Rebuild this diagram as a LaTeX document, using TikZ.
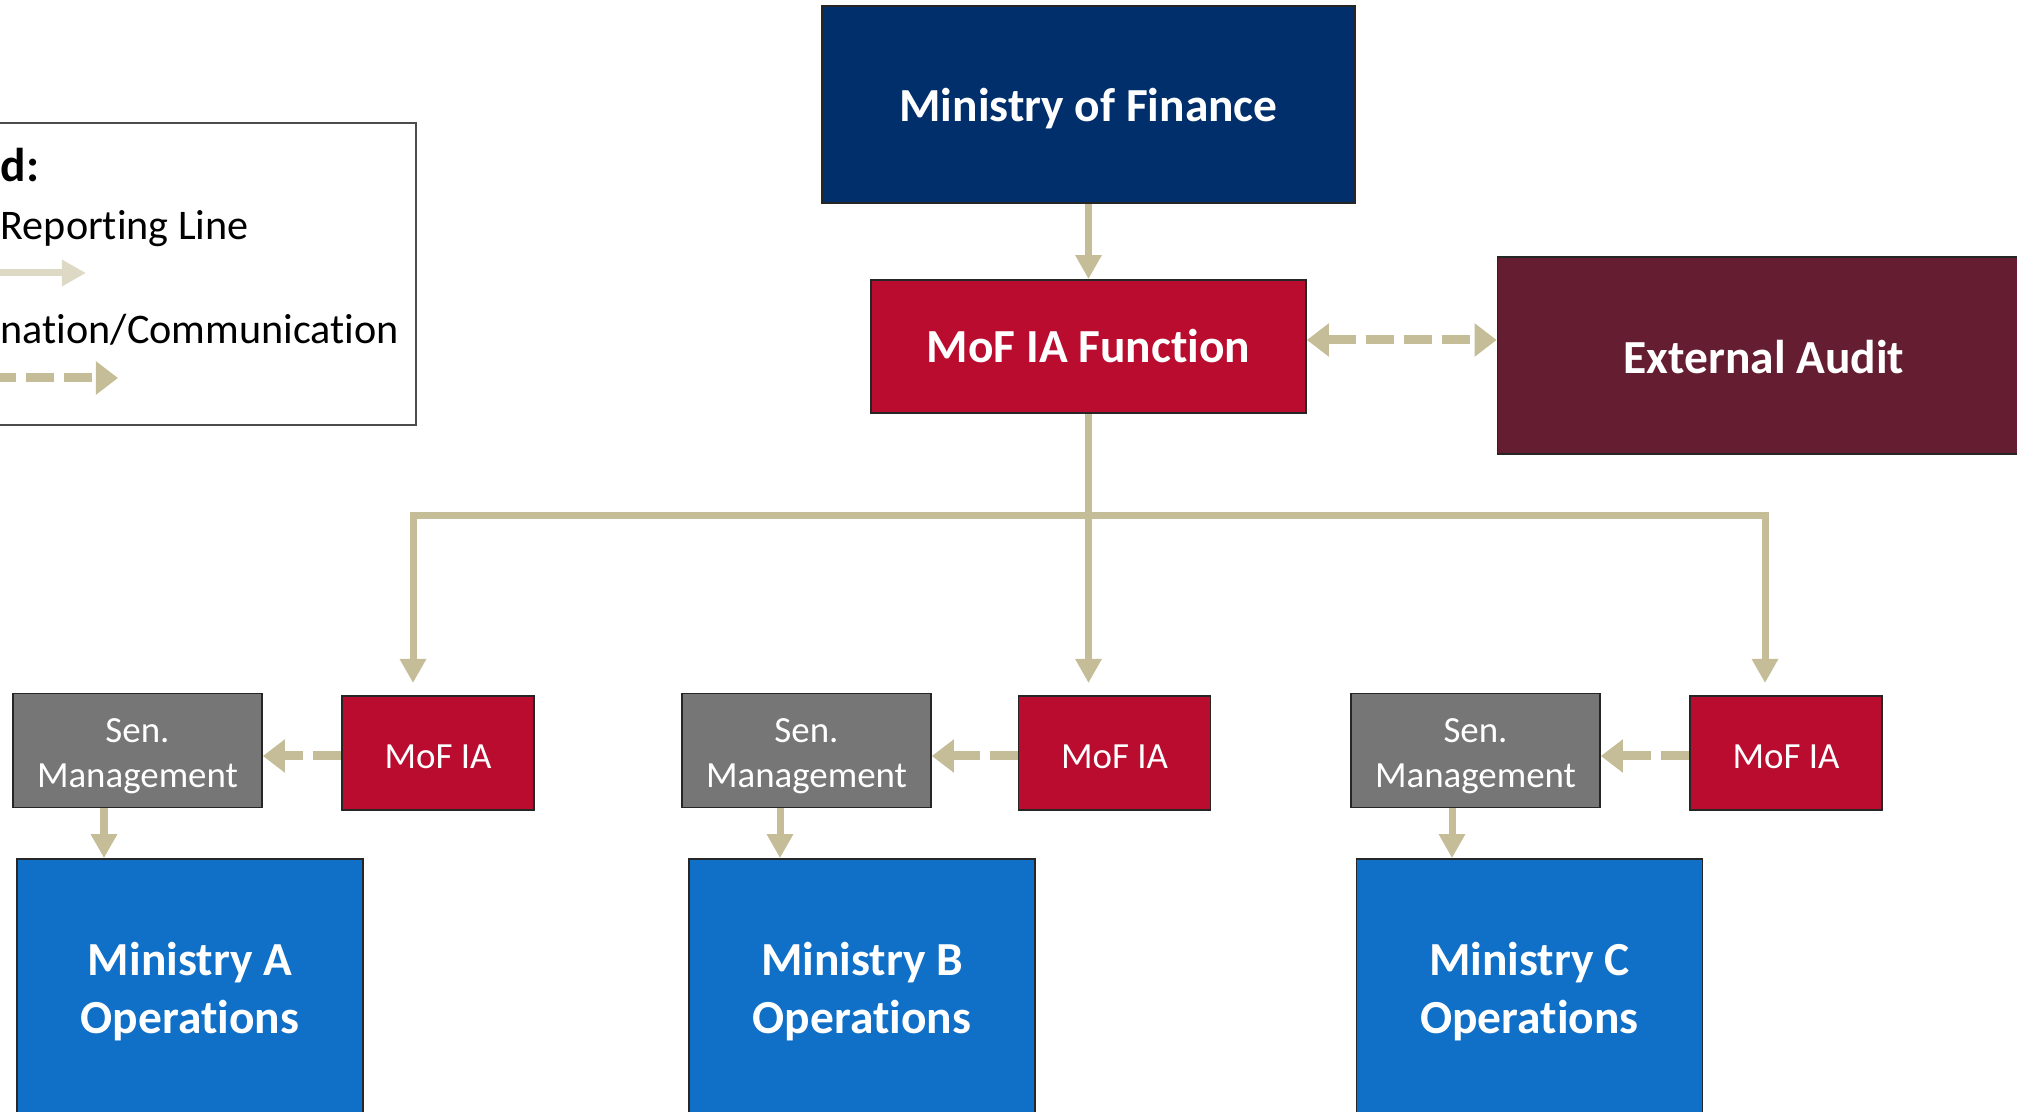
\documentclass[tikz,border=0pt]{standalone}
\usepackage{fontspec}
\setmainfont{Carlito}[Ligatures=NoCommon]
\definecolor{mofnavy}{RGB}{0,47,108}
\definecolor{mofred}{RGB}{186,12,47}
\definecolor{extwine}{RGB}{101,29,50}
\definecolor{mgmtgray}{RGB}{118,118,118}
\definecolor{opsblue}{RGB}{16,111,198}
\definecolor{lntan}{RGB}{196,189,151}
\definecolor{lntanlt}{RGB}{221,217,196}
\usetikzlibrary{arrows.meta,positioning,calc}
% lower a line of box text without changing the box
\newcommand{\dn}[2][1.1pt]{\raisebox{-#1}[\height][\depth]{#2}}

\begin{document}
\begin{tikzpicture}[
  bigbox/.style={rectangle, draw=black!85, line width=0.5pt, text=white,
                 font=\fontsize{13.5}{16.5}\selectfont\bfseries, align=center},
  smallbox/.style={rectangle, draw=black!85, line width=0.5pt, text=white,
                 font=\fontsize{10.5}{13}\selectfont, align=center,
                 minimum height=1.14cm},
  reparr/.style={-{Triangle[length=0.24cm, width=0.25cm]}, line width=0.07cm, draw=lntan},
  comarr/.style={-{Triangle[length=0.22cm, width=0.32cm]}, line width=0.09cm, draw=lntan,
                 dash pattern=on 0.28cm off 0.1cm},
  legtext/.style={anchor=west, inner sep=0pt, font=\fontsize{12}{14}\selectfont}
]
\useasboundingbox (0,0) rectangle (20.17,-11.12);
\clip (0,0) rectangle (20.17,-11.12);

% Top nodes
\node[bigbox, fill=mofnavy, minimum width=5.33cm, minimum height=1.97cm] (mof) at (10.885,-1.045) {\dn{Ministry of Finance}};
\node[bigbox, fill=mofred,  minimum width=4.35cm, minimum height=1.33cm] (mofia) at (10.885,-3.465) {MoF IA Function};
\node[bigbox, fill=extwine, minimum width=5.33cm, minimum height=1.97cm] (ext) at (17.64,-3.555) {\dn[0.4pt]{External Audit}};

% Legend
\node[draw=black!70, line width=0.5pt, minimum width=6.3cm, minimum height=3.02cm] (leg) at (1.01,-2.74) {};
\node[legtext, font=\fontsize{13.5}{16}\selectfont\bfseries] (legt) at (0,-1.65) {d:};
\node[legtext] (legrep) at (0,-2.29) {Reporting Line};
\node[legtext] (legcom) at (0,-3.30) {nation/Communication};
\coordinate (repa) at (-0.5,-2.73);
\coordinate (repb) at (0.86,-2.73);
\coordinate (coma) at (-0.5,-3.78);
\coordinate (comb) at (1.18,-3.78);
\draw[reparr, draw=lntanlt] (repa) -- (repb);
\draw[comarr] (coma) -- (comb);

% Ministry level nodes
\node[smallbox, fill=mofred, minimum width=1.92cm] (iaA) at (4.38,-7.53) {\dn{MoF IA}};
\node[smallbox, fill=mofred, minimum width=1.92cm] (iaB) at (11.145,-7.53) {\dn{MoF IA}};
\node[smallbox, fill=mofred, minimum width=1.92cm] (iaC) at (17.86,-7.53) {\dn{MoF IA}};
\node[smallbox, fill=mgmtgray, minimum width=2.49cm] (senA) at (1.375,-7.505) {\dn[1.6pt]{Sen.}\\\dn[1.6pt]{Management}};
\node[smallbox, fill=mgmtgray, minimum width=2.49cm] (senB) at (8.065,-7.505) {\dn[1.6pt]{Sen.}\\\dn[1.6pt]{Management}};
\node[smallbox, fill=mgmtgray, minimum width=2.49cm] (senC) at (14.755,-7.505) {\dn[1.6pt]{Sen.}\\\dn[1.6pt]{Management}};
\node[bigbox, fill=opsblue, minimum width=3.46cm, minimum height=2.58cm] (opsA) at (1.9,-9.88) {\dn{Ministry A}\\\dn{Operations}};
\node[bigbox, fill=opsblue, minimum width=3.46cm, minimum height=2.58cm] (opsB) at (8.62,-9.88) {\dn{Ministry B}\\\dn{Operations}};
\node[bigbox, fill=opsblue, minimum width=3.46cm, minimum height=2.58cm] (opsC) at (15.295,-9.88) {\dn{Ministry C}\\\dn{Operations}};

% Branch points
\coordinate (busL) at (4.13,-5.16);
\coordinate (busR) at (17.65,-5.16);
\coordinate (tipL) at (4.13,-6.83);
\coordinate (tipM) at (10.885,-6.83);
\coordinate (tipR) at (17.65,-6.83);

% Arrows
\draw[reparr] (mof) -- (mofia);
\draw[comarr, {Triangle[length=0.22cm, width=0.32cm]}-{Triangle[length=0.22cm, width=0.32cm]}] ([yshift=0.065cm]mofia.east) -- ([yshift=0.065cm]mofia.east -| ext.west);
\draw[reparr] (mofia) -- (tipM);
\draw[reparr] (busL -| mofia) -- (busL) -- (tipL);
\draw[reparr] (busR -| mofia) -- (busR) -- (tipR);
\foreach \m/\dx in {A/-0.335,B/-0.265,C/-0.235}{
  \draw[comarr] ([yshift=-0.03cm]ia\m.west) -- ([yshift=-0.03cm]ia\m.west -| sen\m.east);
  \draw[reparr] ([xshift=\dx cm]sen\m.south) -- ([xshift=\dx cm]sen\m.south |- ops\m.north);
}
\end{tikzpicture}
\end{document}
